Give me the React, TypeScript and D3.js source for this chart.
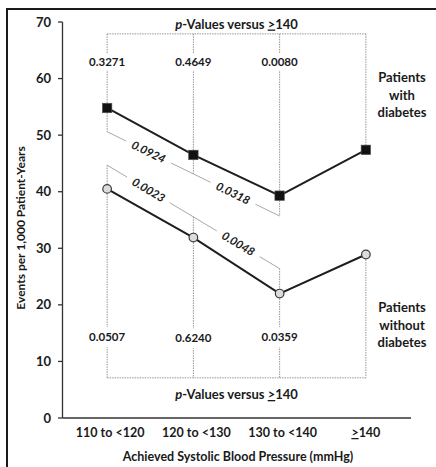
import React, { useEffect, useRef } from "react";
import * as d3 from "d3";

const categories = ["110 to <120", "120 to <130", "130 to <140", "≥140"];
const withDiabetes = [54.8, 46.5, 39.3, 47.4];
const withoutDiabetes = [40.5, 31.9, 22.0, 28.9];
const pVs140Diabetes = ["0.3271", "0.4649", "0.0080"];
const pVs140NoDiabetes = ["0.0507", "0.6240", "0.0359"];
const pTrendDiabetes = ["0.0924", "0.0318"];
const pTrendNoDiabetes = ["0.0023", "0.0048"];
const yTicks = [0, 10, 20, 30, 40, 50, 60, 70];

// bracket levels, in data units
const topBracket = 67.9;
const bottomBracket = 7.1;
const diagDiabetes = [50.6, 35.7];
const diagNoDiabetes = [44.7, 26.4];

const W = 436;
const H = 467;
const FONT = "Lato, 'Open Sans', sans-serif";

const App: React.FC = () => {
  const ref = useRef<SVGSVGElement | null>(null);

  useEffect(() => {
    if (!ref.current) return;
    const svg = d3.select(ref.current);
    svg.selectAll("*").remove();

    const x = d3.scalePoint<string>().domain(categories).range([64, 409]).padding(0.5);
    const y = d3.scaleLinear().domain([0, 70]).range([418, 22]);
    const xi = (i: number) => x(categories[i]) as number;

    // frame
    svg.append("path")
      .attr("d", `M7,${H} V9 H${W}`)
      .attr("fill", "none")
      .attr("stroke", "#1a1a1a")
      .attr("stroke-width", 2);

    const gray = svg.append("g").attr("fill", "none");
    const dotted = (x1: number, y1: number, x2: number, y2: number) =>
      gray.append("line")
        .attr("x1", x1).attr("y1", y1).attr("x2", x2).attr("y2", y2)
        .attr("stroke", "#959595")
        .attr("stroke-width", 1)
        .attr("stroke-dasharray", "1.5,1");

    // top and bottom brackets
    dotted(xi(0), y(topBracket), xi(3), y(topBracket));
    dotted(xi(0), y(bottomBracket), xi(3), y(bottomBracket));

    categories.forEach((c, i) => {
      dotted(xi(i), y(topBracket), xi(i), y(withDiabetes[i]));
      dotted(xi(i), y(withoutDiabetes[i]), xi(i), y(bottomBracket));
      if (i < 3) {
        const dd = diagDiabetes[0] + ((diagDiabetes[1] - diagDiabetes[0]) * i) / 2;
        const dn = diagNoDiabetes[0] + ((diagNoDiabetes[1] - diagNoDiabetes[0]) * i) / 2;
        dotted(xi(i), y(withDiabetes[i]), xi(i), y(dd));
        dotted(xi(i), y(dn), xi(i), y(withoutDiabetes[i]));
      }
    });

    // diagonal brackets with gaps for the labels
    const diag = (vals: number[], labels: string[], ts: number[]) => {
      const x1 = xi(0), y1 = y(vals[0]), x2 = xi(2), y2 = y(vals[1]);
      const len = Math.hypot(x2 - x1, y2 - y1);
      const ang = (Math.atan2(y2 - y1, x2 - x1) * 180) / Math.PI;
      const gap = 25 / len;
      const stops = [0];
      ts.forEach((t) => stops.push(t - gap, t + gap));
      stops.push(1);
      for (let k = 0; k < stops.length; k += 2) {
        gray.append("line")
          .attr("x1", x1 + (x2 - x1) * stops[k]).attr("y1", y1 + (y2 - y1) * stops[k])
          .attr("x2", x1 + (x2 - x1) * stops[k + 1]).attr("y2", y1 + (y2 - y1) * stops[k + 1])
          .attr("stroke", "#a8a8a8")
          .attr("stroke-width", 1);
      }
      labels.forEach((l, k) => {
        const cx = x1 + (x2 - x1) * ts[k];
        const cy = y1 + (y2 - y1) * ts[k];
        svg.append("text")
          .attr("transform", `translate(${cx},${cy}) rotate(${ang})`)
          .attr("text-anchor", "middle")
          .attr("dy", "0.35em")
          .attr("font-family", FONT)
          .attr("font-size", 11.5)
          .attr("font-weight", "bold")
          .attr("font-style", "italic")
          .attr("fill", "#1a1a1a")
          .text(l);
      });
    };
    diag(diagDiabetes, pTrendDiabetes, [0.24, 0.73]);
    diag(diagNoDiabetes, pTrendNoDiabetes, [0.24, 0.76]);

    // p-value labels on the verticals
    const pLabel = (cx: number, cy: number, txt: string, h: number) => {
      svg.append("rect")
        .attr("x", cx - 22).attr("y", cy - h / 2)
        .attr("width", 44).attr("height", h)
        .attr("fill", "#fff");
      svg.append("text")
        .attr("x", cx).attr("y", cy)
        .attr("dy", "0.35em")
        .attr("text-anchor", "middle")
        .attr("font-family", FONT)
        .attr("font-size", 11.5)
        .attr("font-weight", "bold")
        .attr("fill", "#1a1a1a")
        .text(txt);
    };
    pVs140Diabetes.forEach((p, i) => pLabel(xi(i), y(62.9), p, 17));
    pVs140NoDiabetes.forEach((p, i) => pLabel(xi(i), y(i === 1 ? 14.1 : 14.3), p, 20));

    // bracket titles
    const bracketTitle = (cy: number) => {
      const t = svg.append("text")
        .attr("x", (xi(0) + xi(3)) / 2)
        .attr("y", cy)
        .attr("text-anchor", "middle")
        .attr("font-family", FONT)
        .attr("font-size", 13)
        .attr("font-weight", "bold")
        .attr("fill", "#1a1a1a");
      t.append("tspan").attr("font-style", "italic").text("p");
      t.append("tspan").text("-Values versus ");
      t.append("tspan").attr("text-decoration", "underline").text(">");
      t.append("tspan").text("140");
    };
    bracketTitle(28.5);
    bracketTitle(399);

    // axes
    const axisG = svg.append("g").attr("stroke", "#333").attr("stroke-width", 1.3);
    axisG.append("line").attr("x1", 62.5).attr("x2", 62.5).attr("y1", y(70)).attr("y2", y(0));
    axisG.append("line").attr("x1", 62.5).attr("x2", 411).attr("y1", y(0)).attr("y2", y(0));
    yTicks.forEach((t) => {
      axisG.append("line").attr("x1", 58).attr("x2", 62.5).attr("y1", y(t)).attr("y2", y(t));
      svg.append("text")
        .attr("x", 51).attr("y", y(t))
        .attr("dy", "0.35em")
        .attr("text-anchor", "end")
        .attr("font-family", FONT)
        .attr("font-size", 13)
        .attr("font-weight", "bold")
        .attr("fill", "#1a1a1a")
        .text(t);
    });
    categories.forEach((c, i) => {
      const t = svg.append("text")
        .attr("x", xi(i) + (i < 3 ? 3 : 0)).attr("y", 437)
        .attr("text-anchor", "middle")
        .attr("font-family", FONT)
        .attr("font-size", 12.5)
        .attr("font-weight", "bold")
        .attr("fill", "#1a1a1a");
      if (c.startsWith("≥")) {
        t.append("tspan").attr("text-decoration", "underline").text(">");
        t.append("tspan").text(c.slice(1));
      } else t.text(c);
    });
    svg.append("text")
      .attr("x", 238).attr("y", 461)
      .attr("text-anchor", "middle")
      .attr("font-family", FONT)
      .attr("font-size", 12.5)
      .attr("font-weight", "bold")
      .attr("fill", "#1a1a1a")
      .text("Achieved Systolic Blood Pressure (mmHg)");
    svg.append("text")
      .attr("transform", `translate(25,228) rotate(-90)`)
      .attr("text-anchor", "middle")
      .attr("font-family", FONT)
      .attr("font-size", 12)
      .attr("font-weight", "bold")
      .attr("fill", "#1a1a1a")
      .text("Events per 1,000 Patient-Years");

    // series labels
    const seriesLabel = (lines: string[], y0: number) => {
      lines.forEach((l, k) =>
        svg.append("text")
          .attr("x", 402).attr("y", y0 + k * 17.5)
          .attr("text-anchor", "middle")
          .attr("font-family", FONT)
          .attr("font-size", 13)
          .attr("font-weight", "bold")
          .attr("fill", "#1a1a1a")
          .text(l)
      );
    };
    seriesLabel(["Patients", "with", "diabetes"], 82);
    seriesLabel(["Patients", "without", "diabetes"], 312);

    // series lines and markers
    const line = d3.line<number>().x((d, i) => xi(i)).y((d) => y(d));
    [withDiabetes, withoutDiabetes].forEach((s) =>
      svg.append("path")
        .attr("d", line(s) as string)
        .attr("fill", "none")
        .attr("stroke", "#1e1e1e")
        .attr("stroke-width", 2)
    );
    svg.selectAll("rect.sq")
      .data(withDiabetes)
      .join("rect")
      .attr("class", "sq")
      .attr("x", (d, i) => xi(i) - 4.75)
      .attr("y", (d) => y(d) - 4.75)
      .attr("width", 9.5)
      .attr("height", 9.5)
      .attr("fill", "#111")
      .attr("stroke", "#555")
      .attr("stroke-width", 0.6);
    svg.selectAll("circle.ci")
      .data(withoutDiabetes)
      .join("circle")
      .attr("class", "ci")
      .attr("cx", (d, i) => xi(i))
      .attr("cy", (d) => y(d))
      .attr("r", 4.3)
      .attr("fill", "#dcdcdc")
      .attr("stroke", "#3a3a3a")
      .attr("stroke-width", 1.2);
  }, []);

  return (
    <svg
      ref={ref}
      width={W}
      height={H}
      style={{ position: "absolute", left: 0, top: 0, background: "#fff", display: "block" }}
    />
  );
};

export default App;
